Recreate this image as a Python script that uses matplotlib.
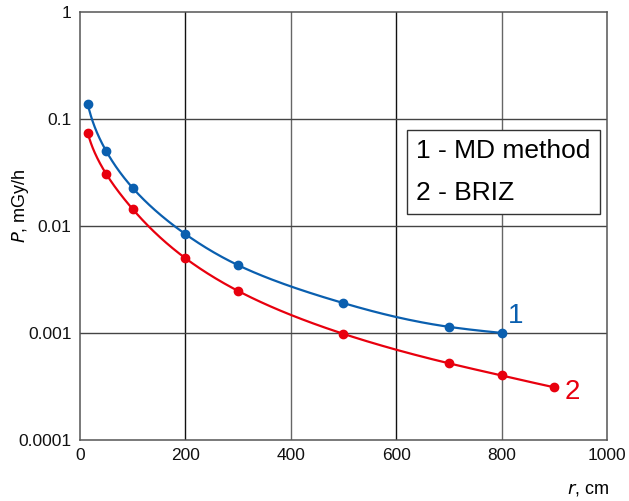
import numpy as np
import matplotlib
matplotlib.use("Agg")
import matplotlib.pyplot as plt

plt.rcParams['font.family'] = ['Liberation Sans', 'DejaVu Sans']

r_md = [15, 50, 100, 200, 300, 500, 700, 800]
p_md = [0.138, 0.050, 0.0227, 0.0084, 0.0043, 0.0019, 0.00114, 0.00100]
r_briz = [15, 50, 100, 200, 300, 500, 700, 800, 900]
p_briz = [0.074, 0.0306, 0.0144, 0.0050, 0.00247, 0.00098, 0.00052, 0.00040, 0.00031]
legend_lines = ["1 - MD method", "2 - BRIZ"]
x_ticks = [0, 200, 400, 600, 800, 1000]
y_ticks = [0.0001, 0.001, 0.01, 0.1, 1]
y_ticklabels = ["0.0001", "0.001", "0.01", "0.1", "1"]

BLUE = "#0a5faf"
RED = "#e8000e"


def natural_spline(x, y, xs):
    x = np.asarray(x, float); y = np.asarray(y, float)
    n = len(x)
    h = np.diff(x)
    A = np.zeros((n, n)); b = np.zeros(n)
    A[0, 0] = 1; A[-1, -1] = 1
    for i in range(1, n - 1):
        A[i, i - 1] = h[i - 1]
        A[i, i] = 2 * (h[i - 1] + h[i])
        A[i, i + 1] = h[i]
        b[i] = 3 * ((y[i + 1] - y[i]) / h[i] - (y[i] - y[i - 1]) / h[i - 1])
    c = np.linalg.solve(A, b)
    out = np.empty_like(xs)
    for k, xv in enumerate(xs):
        i = min(max(np.searchsorted(x, xv) - 1, 0), n - 2)
        d = (c[i + 1] - c[i]) / (3 * h[i])
        bb = (y[i + 1] - y[i]) / h[i] - h[i] * (2 * c[i] + c[i + 1]) / 3
        t = xv - x[i]
        out[k] = y[i] + bb * t + c[i] * t ** 2 + d * t ** 3
    return out


def smooth(r, p):
    lx = np.log10(r); ly = np.log10(p)
    xs = np.linspace(lx[0], lx[-1], 400)
    return 10 ** xs, 10 ** natural_spline(lx, ly, xs)


fig = plt.figure(figsize=(6.29, 5.01), dpi=100)
ax = fig.add_axes([0.127, 0.122, 0.838, 0.854])

for x in [200, 400, 600, 800]:
    ax.axvline(x, color="#111111" if x in (200, 600) else "#666666", lw=1.0, zorder=1)
for y in [0.001, 0.01, 0.1]:
    ax.axhline(y, color="#444444", lw=1.0, zorder=1)

for r, p, col in [(r_md, p_md, BLUE), (r_briz, p_briz, RED)]:
    xs, ys = smooth(r, p)
    ax.plot(xs, ys, color=col, lw=1.6, zorder=3)
    ax.plot(r, p, 'o', color=col, ms=6, zorder=4)

ax.set_yscale('log')
ax.set_xlim(0, 1000)
ax.set_ylim(0.0001, 1)
ax.set_xticks(x_ticks)
ax.set_xticklabels([str(v) for v in x_ticks])
ax.set_yticks(y_ticks)
ax.set_yticklabels(y_ticklabels)
ax.minorticks_off()
ax.tick_params(length=0, labelsize=12.5, pad=6, colors="#111111")
for s in ax.spines.values():
    s.set_color("#555555")
    s.set_linewidth(1.1)

ax.text(812, 0.00145, "1", color=BLUE, fontsize=20, ha='left', va='center')
ax.text(920, 0.00028, "2", color=RED, fontsize=20, ha='left', va='center')

# legend box
ax.text(0.638, 0.626, legend_lines[0] + "\n" + legend_lines[1], transform=ax.transAxes,
        fontsize=19, va='center', ha='left', linespacing=1.95,
        bbox=dict(boxstyle='square,pad=0.35', fc='white', ec='#333333', lw=1.0), zorder=5)

fig.text(0.032, 0.59, r"$\it{P}$, mGy/h", rotation=90, fontsize=13, ha='center', va='center')
fig.text(0.935, 0.022, r"$\it{r}$, cm", fontsize=13, ha='center', va='center')

fig.savefig("out.png", dpi=100)
